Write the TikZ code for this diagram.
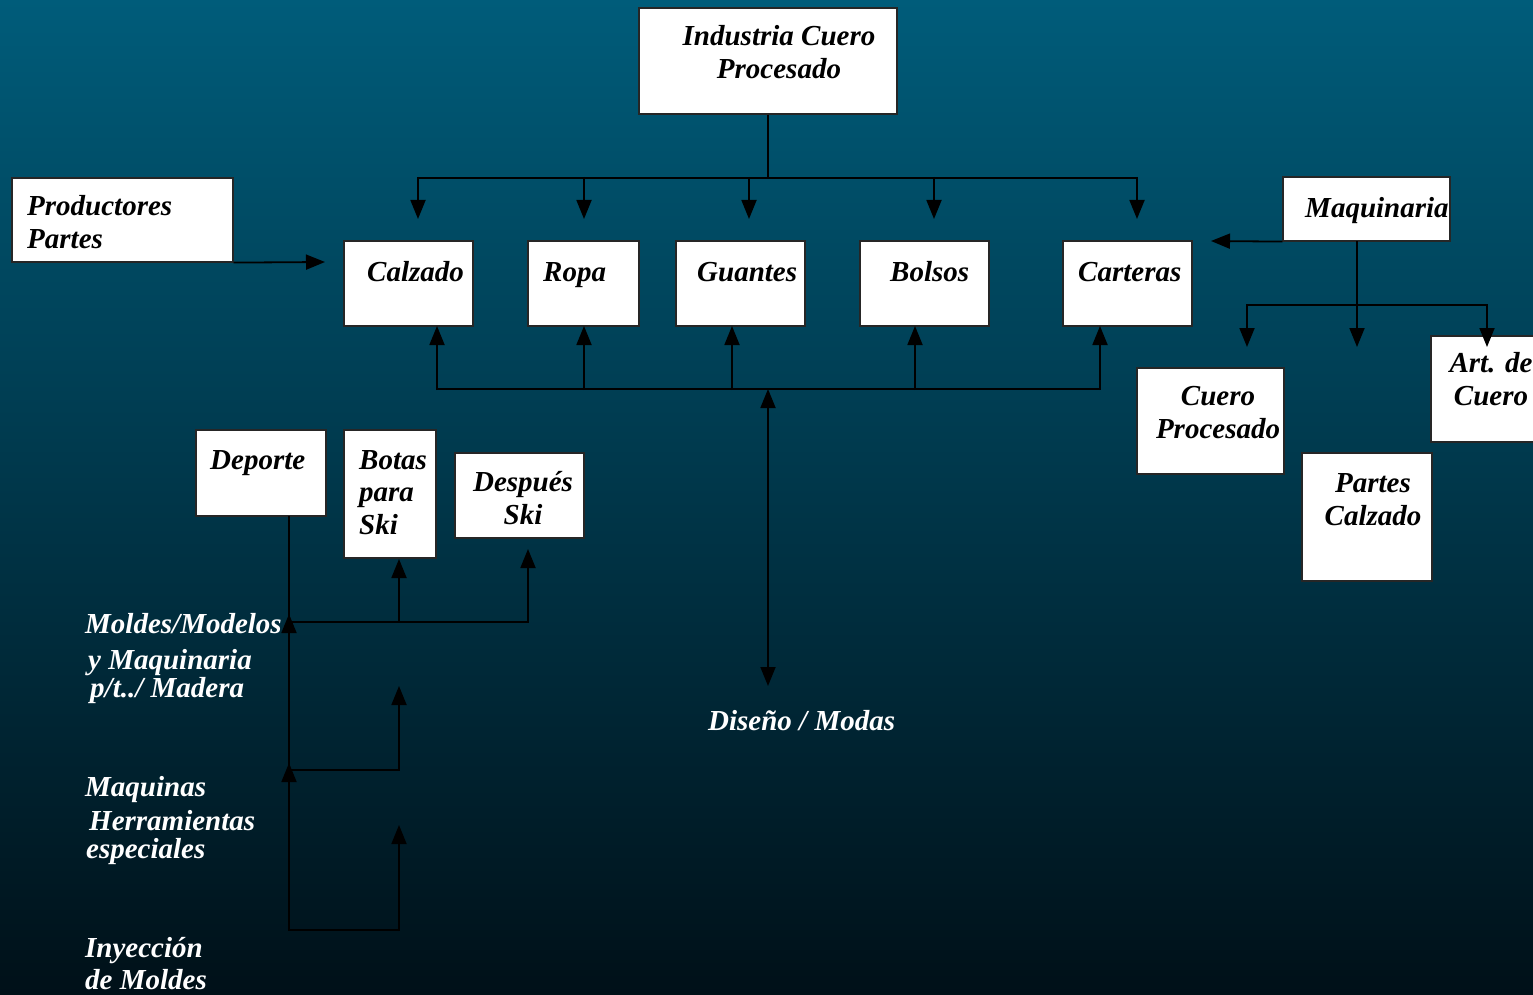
\documentclass[tikz,border=0pt]{standalone}
\usepackage{fontspec}
\setmainfont{Liberation Serif}
\usetikzlibrary{arrows.meta, positioning}
\definecolor{fondoarriba}{RGB}{0,92,122}
\definecolor{fondomedio}{RGB}{0,62,84}
\definecolor{fondoabajo}{RGB}{0,16,24}
\tikzset{
    >={Triangle[length=19pt,width=15pt]}, % solid black heads
    caja/.style={draw=black!85, fill=white, line width=1.2pt, inner sep=0pt}, % white boxes
    texto/.style={font=\fontsize{29}{32.5}\selectfont\bfseries\itshape, inner sep=0pt, align=center},
    blanco/.style={texto, text=white, anchor=base west},
    linea/.style={line width=1.8pt},
    flecha/.style={linea, ->},
}
\begin{document}
\begin{tikzpicture}[x=1pt, y=-1pt]
    \shade[top color=fondoarriba, middle color=fondomedio, bottom color=fondoabajo] (0,0) rectangle (1533,995);
    \useasboundingbox (0,0) rectangle (1533,995);

    % boxes
    \node[caja, minimum width=258, minimum height=106] (ind) at (768,61) {};
    \node[caja, minimum width=221, minimum height=84] (prod) at (122.5,220) {};
    \node[caja, minimum width=129, minimum height=85] (calz) at (408.5,283.5) {};
    \node[caja, minimum width=111, minimum height=85] (ropa) at (583.5,283.5) {};
    \node[caja, minimum width=129, minimum height=85] (guan) at (740.5,283.5) {};
    \node[caja, minimum width=129, minimum height=85] (bols) at (924.5,283.5) {};
    \node[caja, minimum width=129, minimum height=85] (cart) at (1127.5,283.5) {};
    \node[caja, minimum width=167, minimum height=64] (maq) at (1366.5,209) {};
    \node[caja, minimum width=147, minimum height=106] (cuer) at (1210.5,421) {};
    \node[caja, minimum width=129, minimum height=106] (art) at (1495.5,389) {};
    \node[caja, minimum width=130, minimum height=128] (part) at (1367,517) {};
    \node[caja, minimum width=130, minimum height=86] (dep) at (261,473) {};
    \node[caja, minimum width=92, minimum height=128] (bot) at (390,494) {};
    \node[caja, minimum width=129, minimum height=85] (desp) at (519.5,495.5) {};

    % texts in the boxes (base = last line)
    \node[texto, anchor=base] (ind-t) at (779,78.5) {Industria Cuero\\Procesado};
    \node[texto, anchor=base west, align=left] (prod-t) at (27,248) {Productores\\Partes};
    \node[texto, anchor=base west] (calz-t) at (367,281) {Calzado};
    \node[texto, anchor=base west] (ropa-t) at (543,281) {Ropa};
    \node[texto, anchor=base west] (guan-t) at (697,281) {Guantes};
    \node[texto, anchor=base west] (bols-t) at (890,281) {Bolsos};
    \node[texto, anchor=base west] (cart-t) at (1078,281) {Carteras};
    \node[texto, anchor=base west] (maq-t) at (1305,217) {Maquinaria};
    \node[texto, anchor=base] (cuer-t) at (1218,438) {Cuero\\Procesado};
    \node[texto, anchor=base] (art-t) at (1491,405) {Art. de\\Cuero};
    \node[texto, anchor=base] (part-t) at (1373,525) {Partes\\Calzado};
    \node[texto, anchor=base west] (dep-t) at (210,469) {Deporte};
    \node[texto, anchor=base west, align=left] (bot-t) at (359,534) {Botas\\para\\Ski};
    \node[texto, anchor=base] (desp-t) at (523,524) {Después\\Ski};

    % white labels
    \node[blanco] (mold1) at (85,633) {Moldes/Modelos};
    \node[blanco] (mold2) at (88,669) {y Maquinaria};
    \node[blanco] (mold3) at (90,697) {p/t../ Madera};
    \node[blanco] (herr1) at (85,796) {Maquinas};
    \node[blanco] (herr2) at (89,830) {Herramientas};
    \node[blanco] (herr3) at (86,858) {especiales};
    \node[blanco] (iny1) at (85,957) {Inyección};
    \node[blanco] (iny2) at (85,989) {de Moldes};
    \node[blanco] (dis) at (708,730) {Diseño / Modas};

    % top tree
    \coordinate (bus1) at (768,178);
    \draw[linea] (ind.south) -- (bus1);
    \draw[linea] (418,178) -- (1137,178);
    \foreach \x in {418,584,749,934,1137}
        \draw[flecha] (\x,177) -- (\x,219);
    \draw[flecha] (prod.south east) -- (325,262);

    % bottom bus
    \coordinate (bus2) at (768,389);
    \draw[linea] (437,389) -- (1100,389);
    \foreach \x in {437,584,732,915,1100}
        \draw[flecha] (\x,390) -- (\x,326);
    \draw[linea, <->] (bus2) -- (768,686);

    % maquinaria
    \draw[flecha] (maq.south west) -- (1211,241);
    \coordinate (bus3) at (1357,305);
    \draw[linea] (1357,241) -- (bus3);
    \draw[linea] (1247,305) -- (1487,305);
    \foreach \x in {1247,1357,1487}
        \draw[flecha] (\x,304) -- (\x,347);

    % deporte
    \coordinate (dep-b) at (289,516);
    \draw[linea] (dep-b) -- (289,930) -- (399,930);
    \draw[flecha] (399,931) -- (399,825);
    \draw[flecha] (289,650) -- (289,614);
    \draw[flecha] (289,800) -- (289,763);
    \draw[flecha] (289,622) -- (399,622) -- (399,559);
    \draw[flecha] (398,622) -- (528,622) -- (528,549);
    \draw[flecha] (289,770) -- (399,770) -- (399,686);
\end{tikzpicture}
\end{document}
